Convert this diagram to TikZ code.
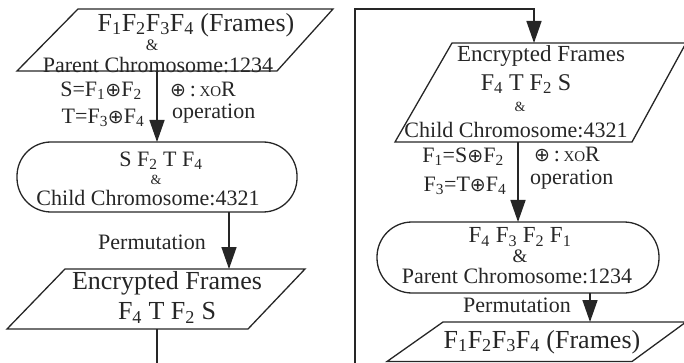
\documentclass[tikz,border=0pt]{standalone}
\usepackage{fontspec}
\setmainfont{Liberation Serif}
\newfontfamily\symfont{DejaVu Sans}
\usetikzlibrary{arrows.meta}
\newcommand\sbs[1]{\textsubscript{#1}}
\newcommand\xr{{\symfont\fontsize{19}{19}\selectfont ⊕}}
\newcommand\xorlbl{\xr\,:\,{\fontsize{15}{15}\selectfont XO}R}
\begin{document}
\begin{tikzpicture}[x=1pt,y=-1pt,
  outline/.style={draw=black!85, line width=1.3pt, line join=miter},
  conn/.style={draw=black!85, line width=1.5pt},
  arr/.style={conn,-{Triangle[length=22pt,width=15pt]}},
  lbl/.style={inner sep=0pt, font=\fontsize{22}{24}\selectfont, text=black!85},
  bigtxt/.style={lbl, font=\fontsize{26}{28}\selectfont},
  amp/.style={lbl, font=\fontsize{14}{14}\selectfont}]
\useasboundingbox (0,0) rectangle (684,363);
\begin{scope}
\clip (0,0) rectangle (684,363);
% shapes
\draw[outline] (78,9) -- (333,9) -- (277,71) -- (17,71) -- cycle;
\draw[outline, rounded corners=34pt] (17,142) rectangle (297,212);
\draw[outline] (65,269) -- (305,269) -- (248,329) -- (7,329) -- cycle;
\draw[outline] (452,43) -- (686,43) -- (632,142) -- (395,142) -- cycle;
\draw[outline, rounded corners=35pt] (377,222) rectangle (659,293);
\draw[outline] (443,322) -- (686,322) -- (632,361.5) -- (387,361.5) -- cycle;
% connection points
\coordinate (p1s) at (157,71);
\coordinate (s1n) at (157,142);
\coordinate (s1s) at (229,212);
\coordinate (p3n) at (229,269);
\coordinate (p3s) at (157,329);
\coordinate (loopa) at (157,395);
\coordinate (loopb) at (355,9);
\coordinate (p4n) at (534,43);
\coordinate (p4s) at (518,142);
\coordinate (s2n) at (518,222);
\coordinate (s2s) at (590,293);
\coordinate (p6n) at (590,322);
% connectors
\draw[arr] (p1s) -- (s1n);
\draw[arr] (s1s) -- (p3n);
\draw[arr] (p3s) -- (loopa) -| (loopb) -| (p4n);
\draw[arr] (p4s) -- (s2n);
\draw[arr] (s2s) -- (p6n);
\end{scope}
% left texts
\node[bigtxt] (t1a) at (196,25) {F\sbs{1}F\sbs{2}F\sbs{3}F\sbs{4} (Frames)};
\node[lbl, font=\fontsize{16}{16}\selectfont] (t1b) at (152,45.5) {\&};
\node[lbl] (t1c) at (158,65) {Parent Chromosome:1234};
\node[lbl] (t2a) at (101,91) {S=F\sbs{1}\xr F\sbs{2}};
\node[lbl] (t2b) at (103,118) {T=F\sbs{3}\xr F\sbs{4}};
\node[lbl, anchor=west] (t2c) at (170,89) {\xorlbl};
\node[lbl, anchor=west] (t2d) at (172,114) {operation};
\node[lbl] (t3a) at (161,161) {S F\sbs{2} T F\sbs{4}};
\node[amp] (t3b) at (156,180) {\&};
\node[lbl] (t3c) at (148,198) {Child Chromosome:4321};
\node[lbl] (t4) at (152,242) {Permutation};
\node[bigtxt] (t5a) at (167,283) {Encrypted Frames};
\node[bigtxt] (t5b) at (167,313) {F\sbs{4} T F\sbs{2} S};
% right texts
\node[lbl, font=\fontsize{23}{24}\selectfont] (r1a) at (541,56) {Encrypted Frames};
\node[lbl, font=\fontsize{24}{24}\selectfont] (r1b) at (526,84) {F\sbs{4} T F\sbs{2} S};
\node[amp] (r1c) at (520,107) {\&};
\node[lbl] (r1d) at (516,130) {Child Chromosome:4321};
\node[lbl] (r2a) at (463,157) {F\sbs{1}=S\xr F\sbs{2}};
\node[lbl] (r2b) at (465,186) {F\sbs{3}=T\xr F\sbs{4}};
\node[lbl, anchor=west] (r2c) at (534,154) {\xorlbl};
\node[lbl, anchor=west] (r2d) at (530,180) {operation};
\node[lbl, font=\fontsize{23}{24}\selectfont] (r3a) at (520,237) {F\sbs{4} F\sbs{3} F\sbs{2} F\sbs{1}};
\node[lbl, font=\fontsize{19}{19}\selectfont] (r3b) at (520,256) {\&};
\node[lbl] (r3c) at (517,276) {Parent Chromosome:1234};
\node[lbl] (r4) at (517,305) {Permutation};
\node[bigtxt] (r5) at (542,342) {F\sbs{1}F\sbs{2}F\sbs{3}F\sbs{4} (Frames)};
\end{tikzpicture}
\end{document}
